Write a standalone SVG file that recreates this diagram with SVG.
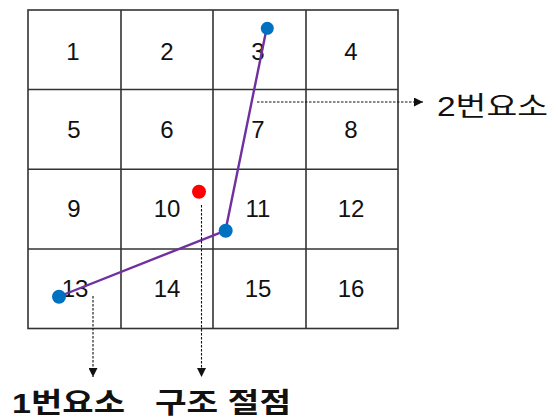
<svg xmlns="http://www.w3.org/2000/svg" width="558" height="418" viewBox="0 0 558 418">
<style>
.grid{stroke:#333;stroke-width:1.6;fill:none}
.num{font-family:"Liberation Sans",Arial,sans-serif;font-size:24px;fill:#111;text-anchor:middle}
.lbl{font-family:"Liberation Sans","Noto Sans CJK KR",sans-serif;fill:#111}
.dash{stroke:#111;stroke-width:1.1;stroke-dasharray:2.5,1.5;fill:none}
.elem{stroke:#7030A0;stroke-width:2.4;fill:none}
.node{fill:#0070C0}
</style>
<defs>
<marker id="ah" viewBox="0 0 10 10" refX="10" refY="5" markerWidth="9" markerHeight="9" markerUnits="userSpaceOnUse" orient="auto">
<path d="M0,0 L10,5 L0,10 Z" fill="#111"/>
</marker>
</defs>
<rect width="558" height="418" fill="#fff"/>
<g id="grid">
<rect class="grid" x="28" y="10" width="370" height="318.5"/>
<line class="grid" x1="121" y1="10" x2="121" y2="328.5"/>
<line class="grid" x1="213" y1="10" x2="213" y2="328.5"/>
<line class="grid" x1="306" y1="10" x2="306" y2="328.5"/>
<line class="grid" x1="28" y1="89.5" x2="398" y2="89.5"/>
<line class="grid" x1="28" y1="169.3" x2="398" y2="169.3"/>
<line class="grid" x1="28" y1="249" x2="398" y2="249"/>
</g>
<g id="cells">
<text class="num" x="73" y="60">1</text>
<text class="num" x="167" y="60">2</text>
<text class="num" x="258" y="60">3</text>
<text class="num" x="351" y="60">4</text>
<text class="num" x="74" y="138">5</text>
<text class="num" x="167" y="138">6</text>
<text class="num" x="258" y="138">7</text>
<text class="num" x="351" y="138">8</text>
<text class="num" x="74" y="217">9</text>
<text class="num" x="167" y="217">10</text>
<text class="num" x="258" y="217">11</text>
<text class="num" x="351" y="217">12</text>
<text class="num" x="75" y="297">13</text>
<text class="num" x="167" y="297">14</text>
<text class="num" x="258" y="297">15</text>
<text class="num" x="351" y="297">16</text>
</g>
<g id="connectors">
<polyline class="elem" points="266.5,29 225.5,230.5 59,296.5"/>
<line class="dash" x1="257" y1="102" x2="423" y2="102" marker-end="url(#ah)"/>
<line class="dash" x1="93" y1="296" x2="93" y2="377" marker-end="url(#ah)"/>
<line class="dash" x1="201.5" y1="205" x2="201.5" y2="377" marker-end="url(#ah)"/>
</g>
<g id="node-top"><circle class="node" cx="267.3" cy="28.3" r="6.5"/></g>
<g id="node-mid"><circle class="node" cx="225.7" cy="230.7" r="7"/></g>
<g id="node-bottom"><circle class="node" cx="59" cy="296.7" r="7"/></g>
<g id="structural-node"><circle cx="199" cy="191.7" r="7" fill="#FF0000"/></g>
<g id="label-2"><text class="lbl" x="437" y="115.5" font-size="27" textLength="111" lengthAdjust="spacingAndGlyphs">2번요소</text></g>
<g id="label-1"><text class="lbl" x="12" y="413" font-size="28" textLength="113" lengthAdjust="spacingAndGlyphs" font-weight="bold">1번요소</text></g>
<g id="label-node"><text class="lbl" x="155" y="413" font-size="28" textLength="136" lengthAdjust="spacingAndGlyphs" font-weight="bold">구조 절점</text></g>
</svg>
